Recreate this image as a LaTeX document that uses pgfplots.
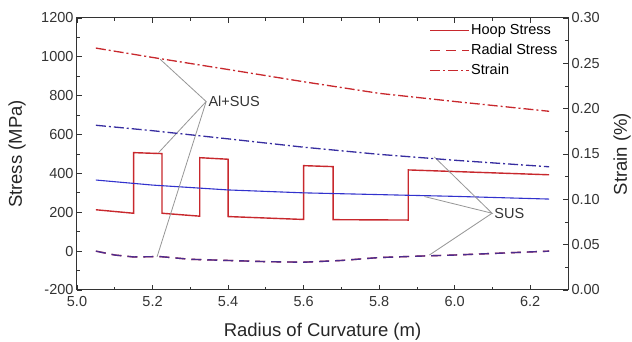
\documentclass[border=0pt]{standalone}
\usepackage{pgfplots}
\pgfplotsset{compat=1.18}
\usepackage{fontspec}
\setmainfont{Liberation Sans}
\definecolor{cred}{RGB}{200,40,45}
\definecolor{cblue}{RGB}{50,50,205}
\definecolor{cdblue}{RGB}{55,45,160}
\definecolor{cgray}{RGB}{150,150,150}
\begin{document}
\begin{tikzpicture}
\pgfplotsset{
  every axis/.append style={
    scale only axis, width=491pt, height=272pt,
    xmin=5.0, xmax=6.3,
    tick align=inside,
    major tick length=5pt, minor tick length=3pt,
    /pgf/number format/assume math mode=true,
    tick label style={font=\fontsize{14.5}{16}\selectfont, text=black!80},
    label style={font=\fontsize{18.5}{20}\selectfont, text=black!85},
    axis line style={black!80, line width=1pt},
    every tick/.style={black!80, line width=0.8pt},
  }
}
\begin{axis}[name=ax,
  ymin=-200, ymax=1200,
  xtick={5.0,5.2,5.4,5.6,5.8,6.0,6.2},
  ytick={-200,0,200,400,600,800,1000,1200},
  minor x tick num=1, minor y tick num=1,
  xticklabel style={yshift=-3pt, /pgf/number format/.cd,fixed,fixed zerofill,precision=1},
  yticklabel style={/pgf/number format/.cd,fixed,1000 sep={}},
  ytick pos=left,
  xlabel={Radius of Curvature (m)}, ylabel={Stress (MPa)},
  xlabel style={at={(axis description cs:0.5,0)}, anchor=center, yshift=-42pt},
  ylabel style={at={(axis description cs:0,0.5)}, anchor=center, yshift=60pt},
  legend style={draw=none, fill=none, at={(rel axis cs:0.985,0.995)}, anchor=north east,
    font=\fontsize{14.5}{16}\selectfont, inner sep=1pt,
    nodes={text height=12pt, text depth=4pt}},
  legend cell align=left,
  legend image code/.code={\draw[#1] (0cm,0cm) -- (1.35cm,0cm);},
]
\addlegendimage{cred, line width=1.4pt}
\addlegendentry{Hoop Stress}
\addlegendimage{cred, line width=1.4pt, dash pattern=on 10pt off 6pt}
\addlegendentry{Radial Stress}
\addlegendimage{cred, line width=1.3pt, dash pattern=on 10pt off 3pt on 2pt off 3pt}
\addlegendentry{Strain}
\addplot[cred, line width=1.4pt, forget plot] coordinates {
(5.05,213)(5.15,195)(5.15,507)(5.225,502)(5.225,195)(5.325,180)(5.325,481)(5.40,473)(5.40,178)(5.60,163)(5.60,440)(5.678,435)(5.678,162)(5.877,160)(5.877,418)(6.25,393)};
\addplot[cred, line width=1.4pt, dash pattern=on 10pt off 6pt, forget plot] coordinates {
(5.05,0)(5.1,-20)(5.15,-30)(5.22,-28)(5.3,-42)(5.4,-48)(5.5,-54)(5.6,-57)(5.7,-48)(5.8,-33)(5.9,-26)(6.0,-20)(6.1,-12)(6.25,0)};
\addplot[cdblue, line width=1.4pt, dash pattern=on 10pt off 6pt, opacity=0.85, forget plot] coordinates {
(5.05,0)(5.1,-20)(5.15,-30)(5.22,-28)(5.3,-42)(5.4,-48)(5.5,-54)(5.6,-57)(5.7,-48)(5.8,-33)(5.9,-26)(6.0,-20)(6.1,-12)(6.25,0)};
\addplot[cblue, line width=1.1pt, forget plot] coordinates {
(5.05,366)(5.2,340)(5.4,315)(5.6,300)(5.8,291)(6.0,282)(6.25,268)};
% annotations
\draw[cgray, line width=0.8pt] (axis cs:5.22,988) -- (axis cs:5.342,770) -- (axis cs:5.216,507);
\draw[cgray, line width=0.8pt] (axis cs:5.342,770) -- (axis cs:5.212,-29);
\node[anchor=west, inner sep=1pt, font=\fontsize{14.5}{16}\selectfont, text=black!80] at (axis cs:5.345,770) {Al+SUS};
\draw[cgray, line width=0.8pt] (axis cs:5.946,485) -- (axis cs:6.099,195) -- (axis cs:5.920,281);
\draw[cgray, line width=0.8pt] (axis cs:6.099,195) -- (axis cs:5.933,-20);
\node[anchor=west, inner sep=1pt, font=\fontsize{14.5}{16}\selectfont, text=black!80] at (axis cs:6.102,195) {SUS};
\end{axis}
\begin{axis}[
  ymin=0, ymax=0.3,
  axis y line*=right, axis x line=none,
  ytick={0,0.05,0.10,0.15,0.20,0.25,0.30},
  minor y tick num=1,
  yticklabel style={/pgf/number format/.cd,fixed,fixed zerofill,precision=2},
  ylabel={Strain (\%)},
  ylabel style={at={(axis description cs:1,0.5)}, anchor=center, yshift=-54pt},
]
\addplot[cred, line width=1.3pt, dash pattern=on 10pt off 3pt on 2pt off 3pt] coordinates {
(5.05,0.2668)(5.2,0.2565)(5.4,0.2432)(5.6,0.2297)(5.8,0.2169)(6.0,0.2079)(6.25,0.1971)};
\addplot[cdblue, line width=1.3pt, dash pattern=on 10pt off 3pt on 2pt off 3pt] coordinates {
(5.05,0.1817)(5.2,0.1757)(5.4,0.1667)(5.6,0.1575)(5.8,0.1496)(6.0,0.1431)(6.25,0.1359)};
\end{axis}
\pgfresetboundingbox
\path ([shift={(-77pt,-52pt)}]ax.south west) rectangle ([shift={(64pt,18pt)}]ax.north east);
\end{tikzpicture}
\end{document}
